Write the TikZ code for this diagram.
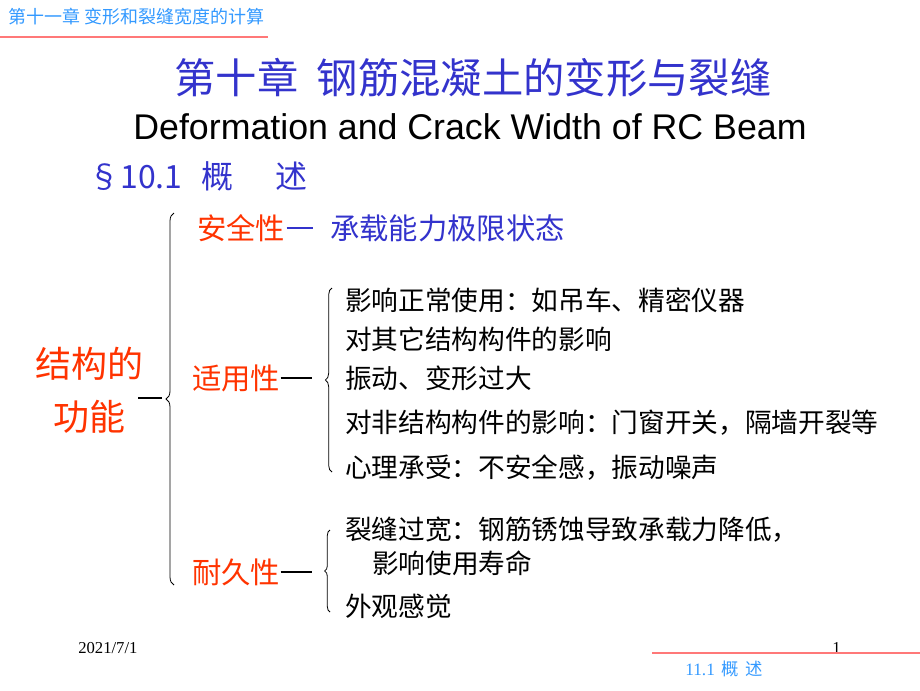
\documentclass[tikz,border=0pt]{standalone}
\usepackage{fontspec}
\setmainfont{Liberation Serif}
\newfontfamily\cjk{Noto Sans CJK SC}
\newfontfamily\arial{Liberation Sans}
\usetikzlibrary{decorations.pathreplacing}
\definecolor{titleblue}{RGB}{51,51,204}
\definecolor{hred}{RGB}{255,51,0}
\definecolor{lblue}{RGB}{51,153,255}
\definecolor{pinkline}{RGB}{255,120,120}
\tikzset{
  txt/.style={anchor=west,inner sep=0pt,font=\cjk\fontsize{20pt}{24pt}\selectfont},
  cat/.style={anchor=west,inner sep=0pt,text=hred,font=\cjk\fontsize{22pt}{26pt}\selectfont},
  brc/.style={decorate,decoration={brace,amplitude=5pt},line width=0.6pt},
  dashline/.style={line width=1.2pt},
}
\begin{document}
\begin{tikzpicture}[x=0.75pt,y=-0.75pt]
\useasboundingbox (0,0) rectangle (920,690);
% header
\node[anchor=west,inner sep=0pt,text=lblue,font=\cjk\fontsize{13.5pt}{15pt}\selectfont] (hdr) at (8,17) {第十一章\ 变形和裂缝宽度的计算};
\draw[pinkline,line width=2.2pt] (0,37) -- (268,37);
% title
\node[inner sep=0pt,text=titleblue,font=\cjk\fontsize{31pt}{35pt}\selectfont] (title) at (473,78) {第十章\ \ 钢筋混凝土的变形与裂缝};
\node[inner sep=0pt,font=\arial\fontsize{26.8pt}{30pt}\selectfont] (etitle) at (470,127) {Deformation and Crack Width of RC Beam};
\node[anchor=west,inner sep=0pt,text=titleblue,font=\cjk\fontsize{24pt}{28pt}\selectfont] (sec) at (88,176) {§10.1\hspace{0.6em}概\hspace{1.3em}述};
% root
\node[anchor=center,inner sep=0pt,text=hred,align=center,font=\cjk\fontsize{27pt}{40pt}\selectfont] (root) at (89,390) {结构的\\功能};
\coordinate (rootdash) at (138,398);
\coordinate (rootdashe) at (162,398);
\draw[line width=1pt] (rootdash) -- (rootdashe);
\coordinate (b1top) at (174,213);
\coordinate (b1bot) at (174,585);
\draw[brc,decoration={amplitude=6pt}] (b1bot) -- (b1top);
% safety
\node[cat] (safe) at (197,228) {安全性};
\coordinate (safedash) at (313,228);
\draw[titleblue,dashline] (safe.east) ++(1,0) -- (safedash);
\node[anchor=west,inner sep=0pt,text=titleblue,font=\cjk\fontsize{22pt}{26pt}\selectfont] (ulsr) at (330,228) {承载能力极限状态};
% serviceability
\node[cat] (serv) at (192,378) {适用性};
\coordinate (servdash) at (312,378);
\draw[dashline] (serv.east) -- (servdash);
\coordinate (b2top) at (332,288);
\coordinate (b2bot) at (332,472);
\draw[brc] (b2bot) -- (b2top);
\node[txt] (s1) at (345,300) {影响正常使用：如吊车、精密仪器};
\node[txt] (s2) at (345,339) {对其它结构构件的影响};
\node[txt] (s3) at (345,378) {振动、变形过大};
\node[txt] (s4) at (345,423) {对非结构构件的影响：门窗开关，隔墙开裂等};
\node[txt] (s5) at (345,468) {心理承受：不安全感，振动噪声};
% durability
\node[cat] (dur) at (192,572) {耐久性};
\coordinate (durdash) at (312,572);
\draw[dashline] (dur.east) -- (durdash);
\coordinate (b3top) at (330,530);
\coordinate (b3bot) at (330,612);
\draw[brc,decoration={amplitude=4pt}] (b3bot) -- (b3top);
\node[txt] (d1) at (345,530) {裂缝过宽：钢筋锈蚀导致承载力降低，};
\node[txt] (d1b) at (372,563) {影响使用寿命};
\node[txt] (d2) at (345,606) {外观感觉};
% footer
\node[anchor=west,inner sep=0pt,font=\fontsize{12.5pt}{14pt}\selectfont] (date) at (78,648) {2021/7/1};
\node[anchor=west,inner sep=0pt,font=\fontsize{12.5pt}{14pt}\selectfont] (page) at (832,648) {1};
\draw[pinkline,line width=2.2pt] (652,653) -- (920,653);
\node[anchor=west,inner sep=0pt,text=lblue,font=\fontsize{13pt}{15pt}\selectfont] (ftr) at (685,669) {11.1\hspace{0.4em}{\cjk 概\hspace{0.35em}述}};
\end{tikzpicture}
\end{document}
